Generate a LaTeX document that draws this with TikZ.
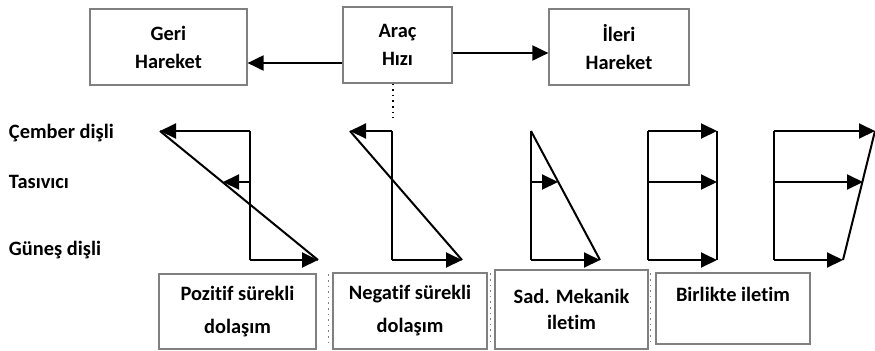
\documentclass[tikz,border=0pt]{standalone}
\usepackage{fontspec}
\setmainfont{Carlito}[Ligatures=NoCommon]
\usetikzlibrary{arrows.meta}
\usetikzlibrary{positioning}
\tikzset{hiz/.style = {-{Triangle[length=8pt, width=7.5pt]}}}
\tikzset{kutu/.style = {draw=gray, line width=0.6pt, inner sep=0, align=center}}
\tikzset{etiket/.style = {anchor=west, inner sep=0}}
\tikzset{golge/.style = {dotted, gray, line width=0.8pt}}

\begin{document}
\begin{tikzpicture}[x=0.5pt, y=-0.5pt, line width=1pt,
                    font=\bfseries\fontsize{10.2}{14}\selectfont]
    \useasboundingbox (0,0) rectangle (875,350);
    % hiz kutulari
    \node [kutu, minimum width=78.5pt, minimum height=38pt] (geri) at (168.5,47) {Geri\\Hareket};
    \node [kutu, minimum width=54.5pt, minimum height=38pt] (arac) at (397.5,45) {Araç\\Hızı};
    \node [kutu, minimum width=70pt, minimum height=38pt] (ileri) at (619,47) {İleri\\Hareket};
    \draw [hiz] ([yshift=-9pt]arac.west) -- ([yshift=-9pt]arac.west -| geri.east);
    \draw [hiz] ([yshift=-4pt]arac.east) -- ([yshift=-4pt]arac.east -| ileri.west);
    \coordinate (uc) at (393,118);
    \draw [dotted, line width=0.8pt] (arac.south -| uc) -- (uc);
    % dişli etiketleri
    \node [etiket] (cember) at (8,133) {Çember dişli};
    \node [etiket] (tasiyici) at (8,182) {Tasıvıcı};
    \node [etiket] (gunes) at (8,250) {Güneş dişli};
    % kol diyagramlari: eksen / cember / tasiyici / gunes
    \foreach \e/\c/\t/\g [count=\i] in {250/160/223/318, 392/350/392/462,
                                       531/531/558/600, 648/717/717/717,
                                       774/875/863/843} {
      \coordinate (e\i) at (\e,131);
      \coordinate (f\i) at (\e,260);
      \coordinate (m\i) at (\e,182);
      \coordinate (c\i) at (\c,131);
      \coordinate (t\i) at (\t,182);
      \coordinate (g\i) at (\g,260);
      \draw (e\i) -- (f\i);
      \ifnum\c=\e\else \draw [hiz] (e\i) -- (c\i); \fi
      \ifnum\t=\e\else \draw [hiz] (m\i) -- (t\i); \fi
      \draw [hiz] (f\i) -- (g\i);
      \draw (c\i) -- (g\i);
    }
    % durum kutulari
    \node [kutu, minimum width=78.5pt, minimum height=37.5pt] (pozitif) at (237.5,311.5) {Pozitif sürekli\\[2.5pt]dolaşım};
    \node [kutu, minimum width=77pt, minimum height=38pt] (negatif) at (410,311) {Negatif sürekli\\[2.5pt]dolaşım};
    \node [kutu, minimum width=76.5pt, minimum height=39.5pt] (sad) at (571.5,309.5) {Sad. Mekanik\\[-1pt]iletim};
    \node [kutu, minimum width=77pt, minimum height=35.5pt] (birlikte) at (733,308.5) {Birlikte iletim\\\mbox{}};
    \draw [golge] ([xshift=-2pt, yshift=-1pt]negatif.north west) -- ([xshift=-2pt, yshift=3pt]negatif.south west);
    \draw [golge] ([xshift=-2pt, yshift=-2pt]sad.north west) -- ([xshift=-2pt, yshift=3pt]sad.south west);
    \draw [golge] ([xshift=1pt, yshift=-2pt]sad.north east) -- ([xshift=1pt, yshift=3pt]sad.south east);
\end{tikzpicture}
\end{document}
